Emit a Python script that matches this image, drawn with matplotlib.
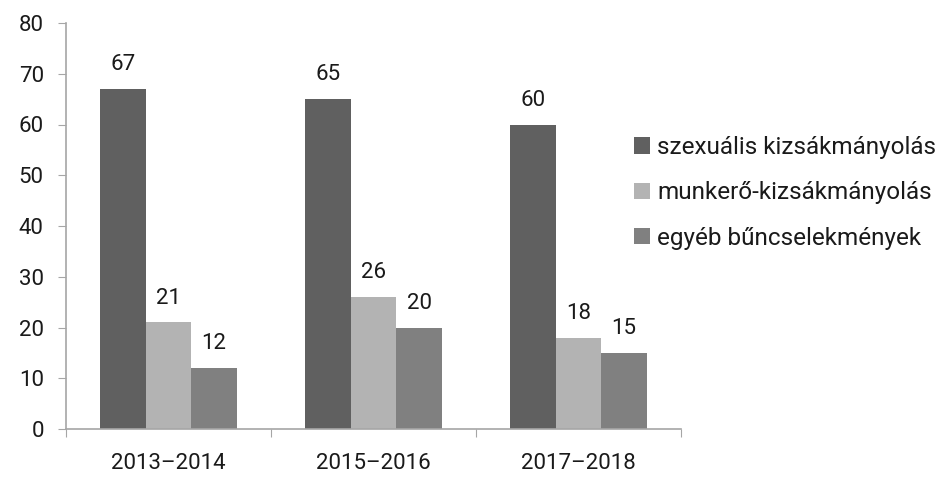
import matplotlib
matplotlib.use("Agg")
import matplotlib.pyplot as plt
import numpy as np

categories = ["2013–2014", "2015–2016", "2017–2018"]
series_names = ["szexuális kizsákmányolás", "munkerő-kizsákmányolás", "egyéb bűncselekmények"]
szexualis = [67, 65, 60]
munkero = [21, 26, 18]
egyeb = [12, 20, 15]
yticks = [0, 10, 20, 30, 40, 50, 60, 70, 80]

colors = ["#606060", "#b3b3b3", "#808080"]
axis_color = "#a6a6a6"
txt = '#1a1a1a'

plt.rcParams['font.family'] = ['Roboto', 'DejaVu Sans']

fig = plt.figure(figsize=(9.49, 4.79), dpi=100)
ax = fig.add_axes([66/949, 1-429/479, (681-66)/949, (429-23)/479])

x = np.arange(len(categories))
w = 0.222
for i, (vals, name, c) in enumerate(zip([szexualis, munkero, egyeb], series_names, colors)):
    pos = x + (i - 1) * w
    bars = ax.bar(pos, vals, width=w, color=c, label=name, zorder=2)
    for b, v in zip(bars, vals):
        ax.text(b.get_x() + b.get_width()/2, v + 2.7, str(v), ha='center', va='bottom',
                fontsize=16, color=txt)

ax.set_xlim(-0.5, 2.5)
ax.set_ylim(0, 80)
ax.set_yticks(yticks)
ax.set_yticklabels([str(t) for t in yticks], fontsize=16, color=txt)
ax.set_xticks([-0.5, 0.5, 1.5, 2.5])
ax.set_xticklabels([])
ax.set_xticks(x, minor=True)
ax.set_xticklabels(categories, minor=True, fontsize=16, color=txt)
ax.tick_params(axis='x', which='minor', length=0, pad=17)
ax.tick_params(axis='x', which='major', length=6, color=axis_color, direction='out')
ax.tick_params(axis='y', length=6, color=axis_color, direction='out', pad=10)

for s in ['top', 'right']:
    ax.spines[s].set_visible(False)
for s in ['left', 'bottom']:
    ax.spines[s].set_color(axis_color)
    ax.spines[s].set_linewidth(1.2)

leg = fig.legend(loc='upper left', bbox_to_anchor=(634/949, 1-136/479), frameon=False,
                 fontsize=17.5, handlelength=0.65, handleheight=0.65, handletextpad=0.3,
                 labelspacing=0.92, borderaxespad=0, borderpad=0)
for t in leg.get_texts():
    t.set_color(txt)

fig.savefig("out.png", dpi=100)
